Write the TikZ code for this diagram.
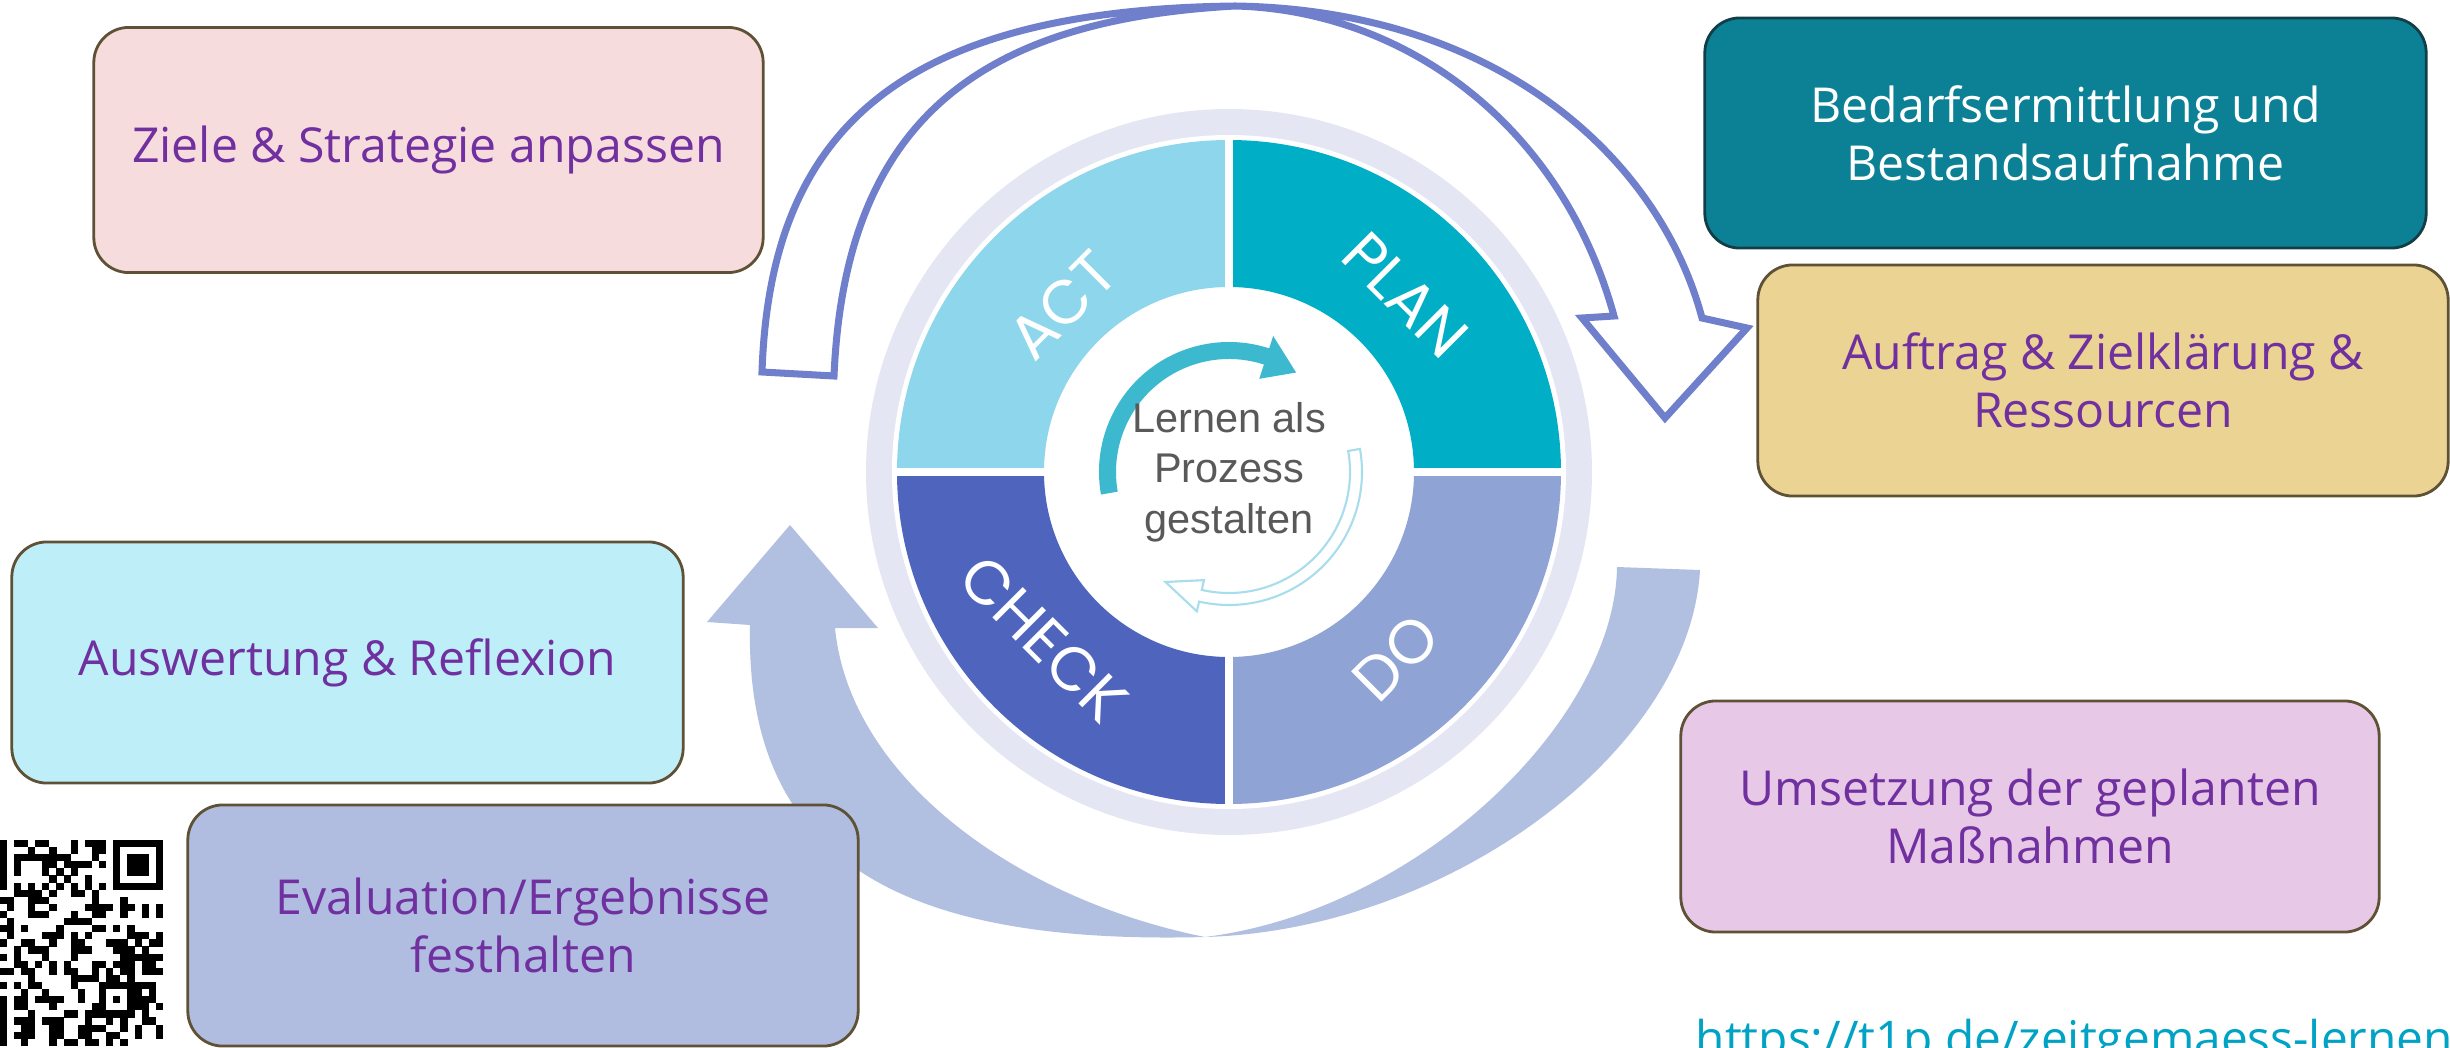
\documentclass[tikz,border=0pt]{standalone}
\usepackage{fontspec}
\usetikzlibrary{calc}
\newfontfamily\boxfont{Open Sans}
\newfontfamily\centerfont{Liberation Sans}
\newfontfamily\pdcafont{Poppins}
\definecolor{ActClr}{rgb}{0.557,0.839,0.925}
\definecolor{PlanClr}{rgb}{0,0.686,0.773}
\definecolor{CheckClr}{rgb}{0.31,0.396,0.741}
\definecolor{DoClr}{rgb}{0.561,0.639,0.831}
\definecolor{RingClr}{rgb}{0.894,0.902,0.953}
\definecolor{ArrowClr}{rgb}{0.435,0.498,0.796}
\definecolor{SweepClr}{rgb}{0.694,0.749,0.878}
\definecolor{InnerClr}{rgb}{0.235,0.722,0.812}
\definecolor{InnerLightClr}{rgb}{0.659,0.867,0.925}
\definecolor{CenterTxtClr}{rgb}{0.35,0.35,0.35}
\definecolor{TextClr}{rgb}{0.439,0.188,0.627}
\definecolor{EdgeClr}{rgb}{0.373,0.318,0.208}
\definecolor{ZieleClr}{rgb}{0.969,0.863,0.867}
\definecolor{BedarfClr}{rgb}{0.047,0.506,0.588}
\definecolor{BedarfEdgeClr}{rgb}{0.071,0.243,0.282}
\definecolor{AuftragClr}{rgb}{0.922,0.827,0.576}
\definecolor{AuswertClr}{rgb}{0.745,0.937,0.976}
\definecolor{EvalClr}{rgb}{0.69,0.741,0.878}
\definecolor{UmsetzClr}{rgb}{0.906,0.784,0.902}
\definecolor{UrlClr}{rgb}{0,0.639,0.769}
\tikzset{
  box/.style={rounded corners=0.35cm,line width=0.8pt,draw=EdgeClr,text=TextClr,
    align=center,inner sep=0pt,font=\boxfont\fontsize{13.7}{16.5}\selectfont},
  pdca/.style={text=white,font=\pdcafont\fontsize{17.5}{20}\selectfont},
}

\begin{document}
\begin{tikzpicture}[x=0.01cm,y=0.01cm]
\useasboundingbox (0,0) rectangle (2450,1047);
\coordinate (C) at (1229,575);

% sweep arrow below the cycle
\fill[SweepClr] (1617,480) -- (1700,477) .. controls (1690,297) and (1450,117) .. (1205,110)
  .. controls (900,102) and (745,187) .. (750,422) -- (707,425) -- (790,522) -- (878,419) -- (835,419)
  .. controls (850,267) and (1020,147) .. (1205,110) .. controls (1420,137) and (1615,327) .. (1617,480) -- cycle;

% outlined arrow above the cycle
\filldraw[fill=white,draw=ArrowClr,line width=2pt] (762,675) .. controls (770,917) and (900,1037) .. (1235,1041)
  .. controls (1500,1037) and (1660,887) .. (1702,729) -- (1747,719) -- (1665,629) -- (1582,729) -- (1614,731)
  .. controls (1560,927) and (1400,1037) .. (1235,1041) .. controls (980,1027) and (845,927) .. (834,671) -- cycle;

\fill[RingClr] (C) circle[radius=363];
\fill[white] (C) circle[radius=337];

\foreach \a/\b/\clr in {90/180/ActClr,0/90/PlanClr,180/270/CheckClr,270/360/DoClr}
  \fill[\clr] ($(C)+(\a:332)$) arc[start angle=\a,end angle=\b,radius=332]
    -- ($(C)+(\b:185)$) arc[start angle=\b,end angle=\a,radius=185] -- cycle;

\draw[white,line width=2.3pt] ($(C)+(-334,0)$) -- ($(C)+(334,0)$);
\draw[white,line width=2.3pt] ($(C)+(0,-334)$) -- ($(C)+(0,334)$);

% small arrows in the middle
\fill[InnerClr] ($(C)+(190:130)$) arc[start angle=190,end angle=72,radius=130] -- ($(C)+(72:143)$)
  -- ($(C)+(56:120)$) -- ($(C)+(72:98)$) -- ($(C)+(72:113)$) arc[start angle=72,end angle=190,radius=113] -- cycle;
\filldraw[fill=white,draw=InnerLightClr,line width=0.6pt] ($(C)+(10:133)$) arc[start angle=10,end angle=-103,radius=133]
  -- ($(C)+(-103:143)$) -- ($(C)+(-120:127)$) -- ($(C)+(-103:111)$) -- ($(C)+(-103:121)$)
  arc[start angle=-103,end angle=10,radius=121] -- cycle;

\node[text=CenterTxtClr,align=center,font=\centerfont\fontsize{11.8}{14.4}\selectfont] (lernen) at (C)
  {Lernen als\\Prozess\\gestalten};

\node[pdca,rotate=45] (act) at ($(C)+(135:236)$) {ACT};
\node[pdca,rotate=-45] (plan) at ($(C)+(45:250)$) {PLAN};
\node[pdca,rotate=-45] (check) at ($(C)+(222:249)$) {CHECK};
\node[pdca,rotate=45] (do) at ($(C)+(312:250)$) {DO};

% boxes
\node[box,fill=ZieleClr,minimum width=6.69cm,minimum height=2.45cm] (ziele) at (428.5,897)
  {Ziele \& Strategie anpassen};
\node[box,fill=BedarfClr,draw=BedarfEdgeClr,text=white,minimum width=7.21cm,minimum height=2.30cm] (bedarf) at (2065.5,914)
  {Bedarfsermittlung und\\Bestandsaufnahme};
\node[box,fill=AuftragClr,minimum width=6.90cm,minimum height=2.31cm] (auftrag) at (2103,666.5)
  {Auftrag \& Zielklärung \&\\Ressourcen};
\node[box,fill=AuswertClr,minimum width=6.71cm,minimum height=2.41cm] (auswert) at (347.5,384.5)
  {Auswertung \& Reflexion};
\node[box,fill=EvalClr,minimum width=6.70cm,minimum height=2.41cm] (eval) at (523,121.5)
  {Evaluation/Ergebnisse\\festhalten};
\node[box,fill=UmsetzClr,minimum width=6.98cm,minimum height=2.31cm] (umsetz) at (2030,230.5)
  {Umsetzung der geplanten\\Maßnahmen};

\node[anchor=base west,inner sep=0pt,text=UrlClr,font=\boxfont\fontsize{13.6}{16}\selectfont] (url) at (1695,-8)
  {https://t1p.de/zeitgemaess-lernen};

% qr code
\pgfmathsetseed{1234}
\foreach \cc in {0,...,28}{
  \foreach \rr in {0,...,28}{
    \pgfmathtruncatemacro\skipit{((\cc<8)&&(\rr<8))||((\cc>20)&&(\rr<8))||((\cc<8)&&(\rr>20))||((\cc>19)&&(\cc<25)&&(\rr>19)&&(\rr<25))||(\cc==6)||(\rr==6)}
    \pgfmathtruncatemacro\dark{rnd<0.48}
    \ifnum\skipit=0\relax\ifnum\dark=1\relax
      \fill ({-43+\cc*7.1},{207-(\rr+1)*7.1}) rectangle ++(7.2,7.2);
    \fi\fi
  }
}
\foreach \fc/\fr in {0/0,22/0,0/22}{
  \fill ({-43+\fc*7.1},{207-(\fr+7)*7.1}) rectangle ++(49.7,49.7);
  \fill[white] ({-43+(\fc+1)*7.1},{207-(\fr+6)*7.1}) rectangle ++(35.5,35.5);
  \fill ({-43+(\fc+2)*7.1},{207-(\fr+5)*7.1}) rectangle ++(21.3,21.3);
}
\foreach \k in {8,10,...,20}{
  \fill ({-43+6*7.1},{207-(\k+1)*7.1}) rectangle ++(7.2,7.2);
  \fill ({-43+\k*7.1},{207-7*7.1}) rectangle ++(7.2,7.2);
}
\fill ({-43+20*7.1},{207-25*7.1}) rectangle ++(35.5,35.5);
\fill[white] ({-43+21*7.1},{207-24*7.1}) rectangle ++(21.3,21.3);
\fill ({-43+22*7.1},{207-23*7.1}) rectangle ++(7.1,7.1);

\end{tikzpicture}
\end{document}
